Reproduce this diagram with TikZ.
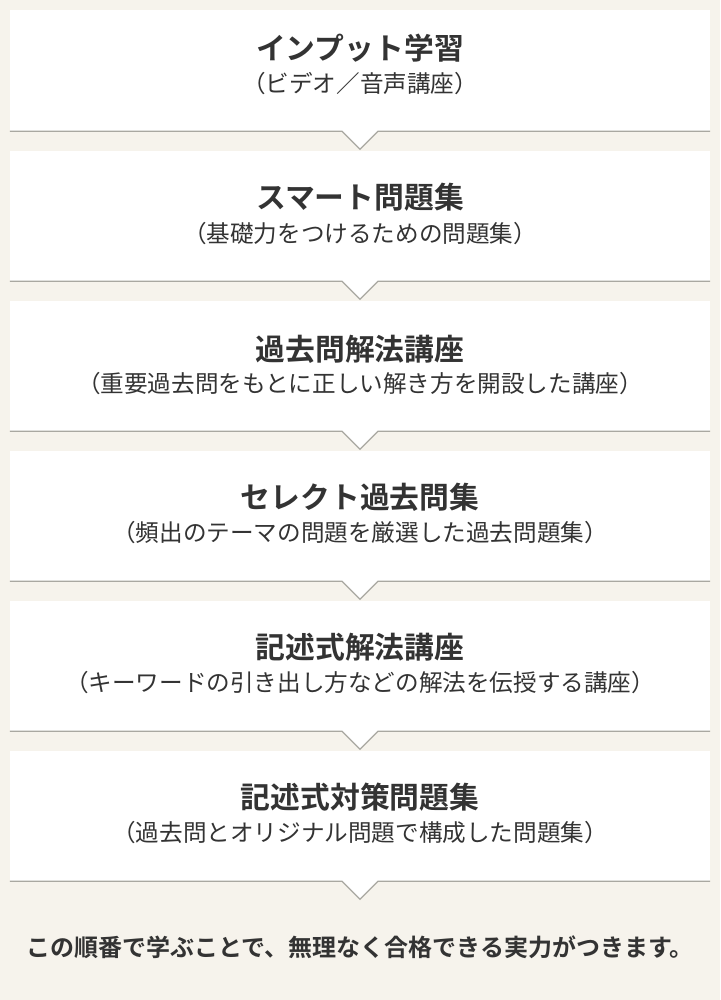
\documentclass[tikz,border=0pt]{standalone}
\usepackage{fontspec}
\setmainfont{Noto Sans CJK JP}[BoldFont={Noto Sans CJK JP Bold}]
\usepackage{tikz}
\usetikzlibrary{positioning}
\definecolor{pagebg}{HTML}{F6F3EC}
\definecolor{rulegray}{HTML}{A9A8A1}
\definecolor{inkgray}{HTML}{333333}
\tikzset{
  stepbox/.style={fill=white, draw=none, minimum width=700pt, inner sep=0pt},
  steptitle/.style={text=inkgray, font=\fontsize{29.8pt}{32pt}\selectfont\bfseries, inner sep=0pt},
  stepnote/.style={text=inkgray, font=\fontsize{23.6pt}{26pt}\selectfont, inner sep=0pt},
  closing/.style={text=inkgray, font=\fontsize{24pt}{27pt}\selectfont\bfseries, inner sep=0pt},
  chevron/.style={draw=rulegray, line width=1.3pt, fill=white}
}
\begin{document}
\begin{tikzpicture}
\fill[pagebg] (0pt,0pt) rectangle (720pt,-1000pt);
\useasboundingbox (0pt,0pt) rectangle (720pt,-1000pt);
% boxes
\node[stepbox, minimum height=121pt] (b1) at (360pt,-70.5pt) {};
\node[stepbox, minimum height=130pt] (b2) at (360pt,-216pt) {};
\node[stepbox, minimum height=130pt] (b3) at (360pt,-366pt) {};
\node[stepbox, minimum height=130pt] (b4) at (360pt,-516pt) {};
\node[stepbox, minimum height=130pt] (b5) at (360pt,-666pt) {};
\node[stepbox, minimum height=130pt] (b6) at (360pt,-816pt) {};
% bottom rules with pointers
\draw[chevron] (b1.south west) -- ([xshift=-18pt]b1.south) -- ([yshift=-18pt]b1.south) -- ([xshift=18pt]b1.south) -- (b1.south east);
\draw[chevron] (b2.south west) -- ([xshift=-18pt]b2.south) -- ([yshift=-18pt]b2.south) -- ([xshift=18pt]b2.south) -- (b2.south east);
\draw[chevron] (b3.south west) -- ([xshift=-18pt]b3.south) -- ([yshift=-18pt]b3.south) -- ([xshift=18pt]b3.south) -- (b3.south east);
\draw[chevron] (b4.south west) -- ([xshift=-18pt]b4.south) -- ([yshift=-18pt]b4.south) -- ([xshift=18pt]b4.south) -- (b4.south east);
\draw[chevron] (b5.south west) -- ([xshift=-18pt]b5.south) -- ([yshift=-18pt]b5.south) -- ([xshift=18pt]b5.south) -- (b5.south east);
\draw[chevron] (b6.south west) -- ([xshift=-18pt]b6.south) -- ([yshift=-18pt]b6.south) -- ([xshift=18pt]b6.south) -- (b6.south east);
% texts
\node[steptitle] (t1) at (360pt,-48pt) {インプット学習};
\node[stepnote, below=36pt of t1.center, anchor=center] (n1) {（ビデオ／音声講座）};
\node[steptitle] (t2) at (360pt,-197pt) {スマート問題集};
\node[stepnote, below=37pt of t2.center, anchor=center] (n2) {（基礎力をつけるための問題集）};
\node[steptitle] (t3) at (360pt,-349pt) {過去問解法講座};
\node[stepnote, below=35pt of t3.center, anchor=center] (n3) {（重要過去問をもとに正しい解き方を開設した講座）};
\node[steptitle] (t4) at (360pt,-497pt) {セレクト過去問集};
\node[stepnote, below=36pt of t4.center, anchor=center] (n4) {（頻出のテーマの問題を厳選した過去問題集）};
\node[steptitle] (t5) at (360pt,-647pt) {記述式解法講座};
\node[stepnote, below=36pt of t5.center, anchor=center] (n5) {（キーワードの引き出し方などの解法を伝授する講座）};
\node[steptitle] (t6) at (360pt,-797pt) {記述式対策問題集};
\node[stepnote, below=36pt of t6.center, anchor=center] (n6) {（過去問とオリジナル問題で構成した問題集）};
\node[closing] (end) at (360pt,-947pt) {この順番で学ぶことで、無理なく合格できる実力がつきます。};
\end{tikzpicture}
\end{document}
